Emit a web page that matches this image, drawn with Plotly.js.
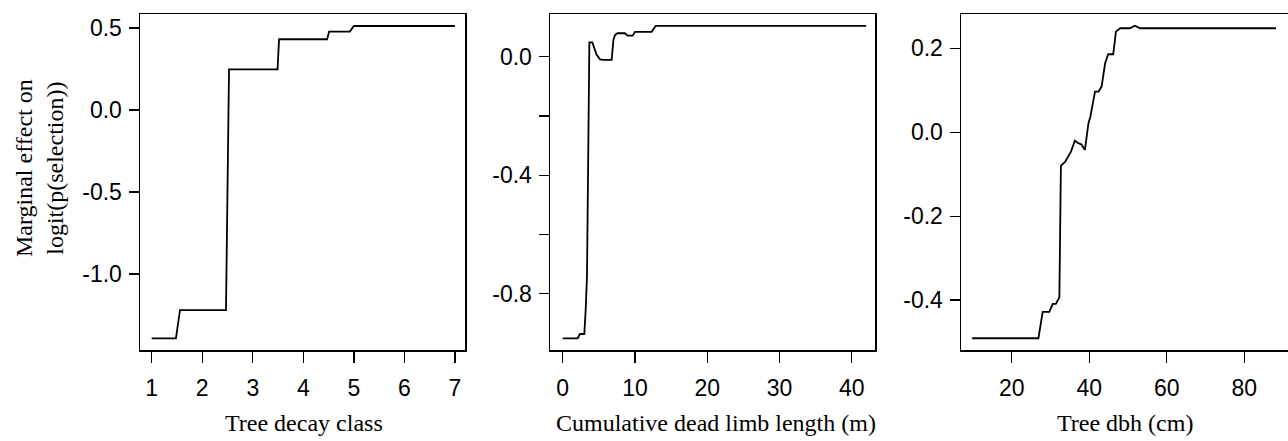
<!DOCTYPE html>
<html>
<head>
<meta charset="utf-8">
<script src="https://cdn.plot.ly/plotly-3.0.1.min.js"></script>
<style>html,body{margin:0;padding:0;background:#fff;}#chart{width:1288px;height:441px;}</style>
</head>
<body>
<div id="chart"></div>
<script>
// Panel 1: Tree decay class
const decayX = [1, 1.48, 1.56, 2.47, 2.53, 3.49, 3.52, 4.47, 4.51, 4.92, 5.0, 7.0];
const decayY = [-1.392, -1.392, -1.220, -1.220, 0.248, 0.248, 0.431, 0.431, 0.478, 0.478, 0.512, 0.512];
// Panel 2: Cumulative dead limb length (m)
const limbX = [0.0, 2.07, 2.39, 2.99, 3.18, 3.36, 3.55, 3.69, 4.10, 4.38, 4.70, 5.16, 5.53, 6.78, 7.01, 7.24, 7.56, 8.62, 8.95, 9.68, 10.01, 12.31, 12.87, 42.0];
const limbY = [-0.951, -0.951, -0.936, -0.936, -0.855, -0.743, -0.292, 0.048, 0.048, 0.028, 0.006, -0.009, -0.011, -0.011, 0.056, 0.073, 0.079, 0.079, 0.071, 0.071, 0.084, 0.084, 0.104, 0.104];
// Panel 3: Tree dbh (cm)
const dbhX = [9.8, 26.9, 28.0, 29.7, 30.6, 31.4, 32.3, 32.7, 33.8, 35.3, 36.3, 37.2, 38.0, 38.9, 39.8, 40.3, 41.5, 42.4, 43.2, 44.1, 44.9, 46.2, 46.9, 48.0, 50.5, 51.8, 53.1, 88.2];
const dbhY = [-0.491, -0.491, -0.428, -0.428, -0.409, -0.409, -0.393, -0.080, -0.070, -0.046, -0.020, -0.026, -0.029, -0.042, 0.021, 0.037, 0.097, 0.097, 0.109, 0.164, 0.186, 0.186, 0.240, 0.248, 0.248, 0.254, 0.248, 0.248];

// Tick values and labels
const decayXTicks = [1, 2, 3, 4, 5, 6, 7];
const decayYTicks = [0.5, 0.0, -0.5, -1.0];
const decayYLabels = ['0.5', '0.0', '-0.5', '-1.0'];
const limbXTicks = [0, 10, 20, 30, 40];
const limbYTicks = [0.0, -0.2, -0.4, -0.6, -0.8];
const limbYLabels = ['0.0', '', '-0.4', '', '-0.8'];
const dbhXTicks = [20, 40, 60, 80];
const dbhYTicks = [0.2, 0.0, -0.2, -0.4];
const dbhYLabels = ['0.2', '0.0', '-0.2', '-0.4'];

const xTitles = ['Tree decay class', 'Cumulative dead limb length (m)', 'Tree dbh (cm)'];
const yTitle = 'Marginal effect on<br>logit(p(selection))';

const W = 1288, H = 441;
const lineStyle = {color: '#000', width: 1.8};

const traces = [
  {x: decayX, y: decayY, xaxis: 'x', yaxis: 'y', mode: 'lines', line: lineStyle, hoverinfo: 'skip'},
  {x: limbX, y: limbY, xaxis: 'x2', yaxis: 'y2', mode: 'lines', line: lineStyle, hoverinfo: 'skip'},
  {x: dbhX, y: dbhY, xaxis: 'x3', yaxis: 'y3', mode: 'lines', line: lineStyle, hoverinfo: 'skip'}
];

const tickFont = {family: 'Liberation Sans, Arial, sans-serif', size: 23, color: '#000'};
const titleFont = {family: 'Liberation Serif, Times New Roman, serif', size: 24, color: '#000'};

function xa(domain, range, tickvals, mirror) {
  return {
    domain: domain, range: range, tickmode: 'array', tickvals: tickvals,
    ticktext: tickvals.map(String),
    showgrid: false, zeroline: false, showline: true, linecolor: '#000', linewidth: 1.5,
    mirror: mirror, ticks: 'outside', ticklen: 11, tickwidth: 1.3, tickcolor: '#000',
    tickfont: tickFont, ticklabelstandoff: 6, fixedrange: true
  };
}
function ya(domain, range, tickvals, ticktext, anchor, mirror) {
  return {
    domain: domain, range: range, tickmode: 'array', tickvals: tickvals, ticktext: ticktext,
    showgrid: false, zeroline: false, showline: true, linecolor: '#000', linewidth: 1.5,
    mirror: mirror, ticks: 'outside', ticklen: 10, tickwidth: 1.3, tickcolor: '#000',
    tickfont: tickFont, ticklabelstandoff: 2, anchor: anchor, fixedrange: true
  };
}

const yDom = [1 - 350 / H, 1 - 14 / H];
const titleY = 1 - 423 / H;

const layout = {
  width: W, height: H,
  margin: {l: 0, r: 0, t: 0, b: 0},
  paper_bgcolor: '#fff', plot_bgcolor: '#fff',
  showlegend: false,
  xaxis: xa([140 / W, 465 / W], [0.769, 7.198], decayXTicks, true),
  yaxis: ya(yDom, [-1.463, 0.585], decayYTicks, decayYLabels, 'x', true),
  xaxis2: Object.assign(xa([550 / W, 875 / W], [-1.758, 43.22], limbXTicks, true), {anchor: 'y2'}),
  yaxis2: ya(yDom, [-0.990, 0.144], limbYTicks, limbYLabels, 'x2', true),
  xaxis3: Object.assign(xa([961 / W, 1], [6.92, 91.3], dbhXTicks, true), {anchor: 'y3'}),
  yaxis3: ya(yDom, [-0.519, 0.282], dbhYTicks, dbhYLabels, 'x3', true),
  annotations: [
    {text: xTitles[0], xref: 'paper', yref: 'paper', x: 304 / W, y: titleY, xanchor: 'center', yanchor: 'middle', showarrow: false, font: titleFont},
    {text: xTitles[1], xref: 'paper', yref: 'paper', x: 716 / W, y: titleY, xanchor: 'center', yanchor: 'middle', showarrow: false, font: titleFont},
    {text: xTitles[2], xref: 'paper', yref: 'paper', x: 1125 / W, y: titleY, xanchor: 'center', yanchor: 'middle', showarrow: false, font: titleFont},
    {text: yTitle, xref: 'paper', yref: 'paper', x: 39 / W, y: 1 - 168 / H, xanchor: 'center', yanchor: 'middle', textangle: -90, showarrow: false, font: Object.assign({}, titleFont, {size: 24})}
  ]
};

Plotly.newPlot('chart', traces, layout, {staticPlot: true, displayModeBar: false});
</script>
</body>
</html>
